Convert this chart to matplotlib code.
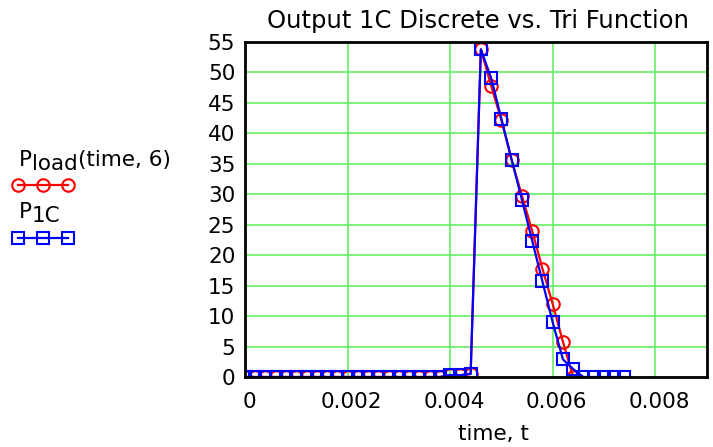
import numpy as np
import matplotlib
matplotlib.use("Agg")
import matplotlib.pyplot as plt
from matplotlib.lines import Line2D
from matplotlib.transforms import ScaledTranslation

plt.rcParams['font.family'] = ['DejaVu Sans']

# sample times (s)
t_load = [0.0, 0.0002, 0.0004, 0.0006, 0.0008, 0.0010, 0.0012, 0.0014, 0.0016,
          0.0018, 0.0020, 0.0022, 0.0024, 0.0026, 0.0028, 0.0030, 0.0032, 0.0034,
          0.0036, 0.0038, 0.0040, 0.0042, 0.0044, 0.0046, 0.0048, 0.0050, 0.0052,
          0.0054, 0.0056, 0.0058, 0.0060, 0.0062, 0.0064]
p_load = [0, 0, 0, 0, 0, 0, 0, 0, 0,
          0, 0, 0, 0, 0, 0, 0, 0, 0,
          0, 0, 0.3, 0.3, 0.5, 53.8, 47.8, 42.2, 35.6,
          29.8, 24.0, 17.8, 12.0, 5.8, 0]

t_1c = [0.0, 0.0002, 0.0004, 0.0006, 0.0008, 0.0010, 0.0012, 0.0014, 0.0016,
        0.0018, 0.0020, 0.0022, 0.0024, 0.0026, 0.0028, 0.0030, 0.0032, 0.0034,
        0.0036, 0.0038, 0.0040, 0.0042, 0.0044, 0.0046, 0.0048, 0.0050, 0.0052,
        0.0054, 0.0056, 0.0058, 0.0060, 0.0062, 0.0064, 0.0066, 0.0068, 0.0070,
        0.0072, 0.0074]
p_1c = [0, 0, 0, 0, 0, 0, 0, 0, 0,
        0, 0, 0, 0, 0, 0, 0, 0, 0,
        0, 0, 0.3, 0.3, 0.5, 53.8, 49.1, 42.4, 35.7,
        29.1, 22.4, 15.7, 9.0, 2.9, 1.3, 0, 0, 0,
        0, 0]

x_ticks = [0, 0.002, 0.004, 0.006, 0.008]
x_labels = ['0', '0.002', '0.004', '0.006', '0.008']
y_ticks = list(range(0, 60, 5))

fig = plt.figure(figsize=(7.13, 4.47), dpi=100)
ax = fig.add_axes([0.3436, 0.1566, 0.6480, 0.7494])

ax.plot(t_load, p_load, color='red', lw=1.6, marker='o', ms=9,
        mfc='none', mec='red', mew=1.5)
ax.plot(t_1c, p_1c, color='#0000ff', lw=1.6, marker='s', ms=8.5,
        mfc='none', mec='#0000ff', mew=1.5)

ax.set_xlim(0, 0.00901)
ax.set_ylim(0, 55)
ax.set_xticks(x_ticks)
ax.set_xticklabels(x_labels)
ax.set_yticks(y_ticks)
ax.grid(True, color='#66ee66', lw=1.2)
ax.set_axisbelow(True)
ax.tick_params(length=0, labelsize=15.5)
ax.tick_params(axis='x', pad=11)
ax.tick_params(axis='y', pad=7)
shift = ScaledTranslation(4 / 100, 0, fig.dpi_scale_trans)
for lab in ax.get_xticklabels():
    lab.set_transform(lab.get_transform() + shift)
for s in ax.spines.values():
    s.set_linewidth(2)
    s.set_color('black')

fig.text(478 / 713, 1 - 21 / 447, 'Output 1C Discrete vs. Tri Function',
         fontsize=17.5, ha='center', va='center')
fig.text(493 / 713, 1 - 440 / 447, 'time, t', fontsize=15.5,
         ha='center', va='baseline')


# legend drawn on the left: name with a lowered, full-size subscript
def legend_name(y_base, main, sub, rest, drop=3.2):
    t1 = fig.text(19 / 713, 1 - y_base / 447, main, fontsize=15.5, va='bottom')
    t2 = ax.annotate(sub, xy=(1, 0), xycoords=t1, xytext=(0, -drop),
                     textcoords='offset points', fontsize=15.5, va='bottom',
                     annotation_clip=False)
    if rest:
        ax.annotate(rest, xy=(1, 0), xycoords=t2, xytext=(0, drop),
                    textcoords='offset points', fontsize=15.5, va='bottom',
                    annotation_clip=False)


legend_name(170, 'P', 'load', '(time, 6)')
legend_name(222, 'P', '1C', '')

lx = np.array([18, 43, 68]) / 713
fig.add_artist(Line2D(lx, [1 - 185 / 447] * 3, color='red', lw=1.6, marker='o',
                      ms=9, mfc='none', mec='red', mew=1.5))
fig.add_artist(Line2D(lx, [1 - 238 / 447] * 3, color='#0000ff', lw=1.6, marker='s',
                      ms=8.5, mfc='none', mec='#0000ff', mew=1.5))

fig.savefig('out.png', dpi=100)
